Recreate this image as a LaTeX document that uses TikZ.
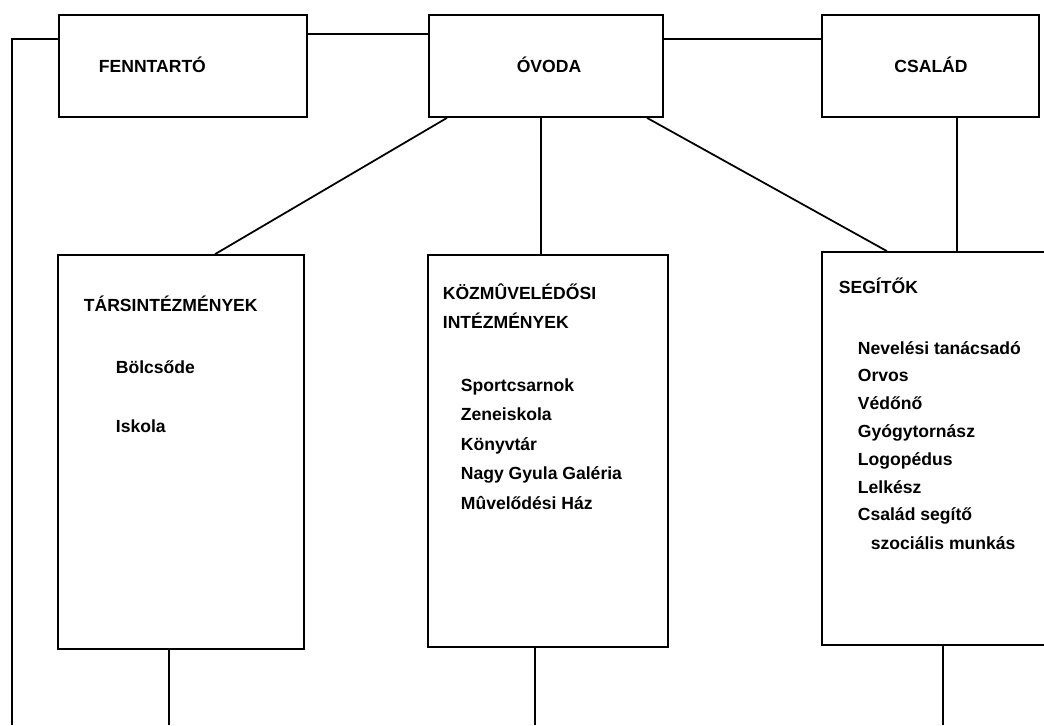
\documentclass[tikz,border=0pt]{standalone}
\usepackage{fontspec}
\setmainfont{Liberation Sans}
\begin{document}
\begin{tikzpicture}[x=0.02cm,y=-0.02cm,line width=1pt,
  doboz/.style={draw,rectangle,inner sep=0pt},
  felirat/.style={font=\bfseries\fontsize{10}{12}\selectfont,inner sep=0pt,text height=7pt,text depth=0pt},
  tetel/.style={felirat,anchor=west}]
\clip (0,0) rectangle (1044,725);
% felso sor
\node[doboz,minimum width=4.96cm,minimum height=2.04cm] (fenn) at (183,66) {};
\node[doboz,minimum width=4.68cm,minimum height=2.04cm] (ovoda) at (546,66) {};
\node[doboz,minimum width=4.34cm,minimum height=2.04cm] (csalad) at (930.5,66) {};
\node[tetel] (fenncim) at (98,66) {FENNTARTÓ};
\node[felirat] (ovodacim) at (549,66) {ÓVODA};
\node[felirat] (csaladcim) at (931,66) {CSALÁD};
% also sor
\node[doboz,minimum width=4.92cm,minimum height=7.88cm] (tars) at (181,452) {};
\node[doboz,minimum width=4.8cm,minimum height=7.84cm] (kozm) at (548,451) {};
\node[doboz,minimum width=4.56cm,minimum height=7.86cm] (seg) at (936,448.5) {};
\node[tetel] (tarscim) at (83,305) {TÁRSINTÉZMÉNYEK};
\node[tetel] (bolcsode) at (115,367) {Bölcsőde};
\node[tetel] (iskola) at (115,426) {Iskola};
\node[tetel] (kozmcim1) at (442,293) {KÖZMÛVELÉDŐSI};
\node[tetel] (kozmcim2) at (442,322) {INTÉZMÉNYEK};
\foreach \t [count=\i] in {Sportcsarnok,Zeneiskola,Könyvtár,Nagy Gyula Galéria,Mûvelődési Ház}
  \node[tetel] (kozm\i) at (460,{385+29.5*(\i-1)}) {\t};
\node[tetel] (segcim) at (838,287) {SEGÍTŐK};
\foreach \t [count=\i] in {Nevelési tanácsadó,Orvos,Védőnő,Gyógytornász,Logopédus,Lelkész,Család segítő}
  \node[tetel] (seg\i) at (857,{348+27.8*(\i-1)}) {\t};
\node[tetel] (seg8) at (870,543) {szociális munkás};
% kapcsolatok
\coordinate (bal) at (12,725);
\coordinate (tarsle) at (169,725);
\coordinate (kozmle) at (535,725);
\coordinate (segle) at (943,725);
\draw (fenn.west|-0,39) -- (12,39) -- (bal);
\draw (fenn.east|-0,34) -- (ovoda.west|-0,34);
\draw (ovoda.east|-0,39) -- (csalad.west|-0,39);
\draw (ovoda.south-|447,0) -- (tars.north-|215,0);
\draw (ovoda.south-|541,0) -- (kozm.north-|541,0);
\draw (ovoda.south-|647,0) -- (seg.north-|887,0);
\draw (csalad.south-|957,0) -- (seg.north-|957,0);
\draw (tars.south-|tarsle) -- (tarsle);
\draw (kozm.south-|kozmle) -- (kozmle);
\draw (seg.south-|segle) -- (segle);

\end{tikzpicture}
\end{document}
